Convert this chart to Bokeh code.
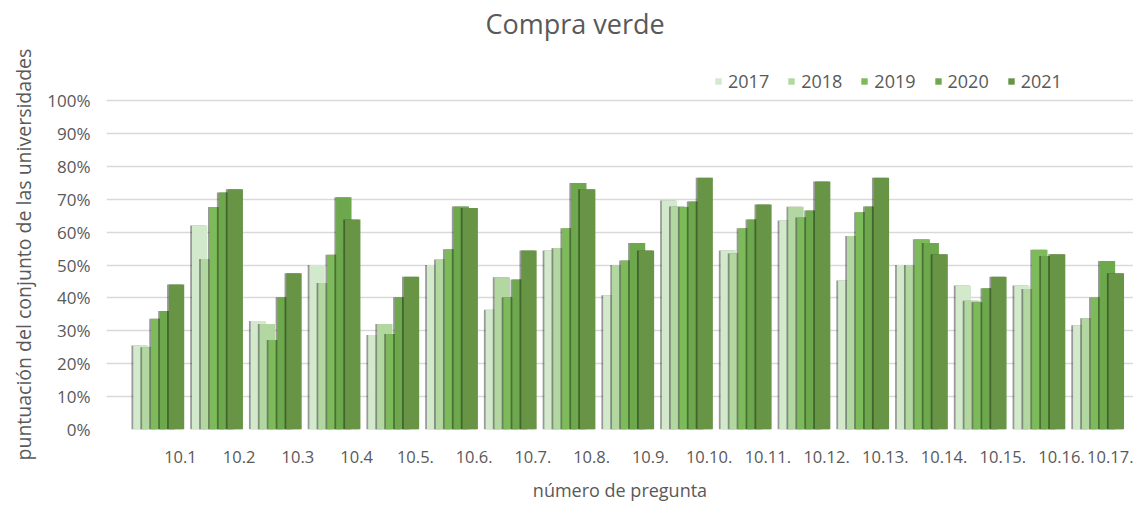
import numpy as np
from bokeh.plotting import figure
from bokeh.models import (FixedTicker, NumeralTickFormatter, Range1d, Legend,
                          LegendItem, ColumnDataSource, Title, Label)
from bokeh.embed import file_html
from bokeh.resources import INLINE

questions = ["10.1", "10.2", "10.3", "10.4", "10.5.", "10.6.", "10.7.", "10.8.", "10.9.",
             "10.10.", "10.11.", "10.12.", "10.13.", "10.14.", "10.15.", "10.16.", "10.17."]
years = ["2017", "2018", "2019", "2020", "2021"]
v2017 = [0.255, 0.62, 0.33, 0.50, 0.287, 0.50, 0.364, 0.544, 0.408, 0.696, 0.544, 0.635, 0.453, 0.50, 0.438, 0.438, 0.317]
v2018 = [0.25, 0.518, 0.321, 0.445, 0.321, 0.517, 0.463, 0.552, 0.50, 0.678, 0.535, 0.677, 0.588, 0.50, 0.391, 0.427, 0.338]
v2019 = [0.337, 0.676, 0.272, 0.531, 0.29, 0.548, 0.402, 0.612, 0.514, 0.676, 0.612, 0.644, 0.66, 0.578, 0.387, 0.546, 0.401]
v2020 = [0.36, 0.72, 0.402, 0.706, 0.402, 0.678, 0.456, 0.749, 0.567, 0.693, 0.638, 0.666, 0.678, 0.567, 0.429, 0.527, 0.512]
v2021 = [0.441, 0.73, 0.475, 0.638, 0.464, 0.673, 0.544, 0.73, 0.544, 0.765, 0.684, 0.754, 0.765, 0.533, 0.464, 0.533, 0.475]
series = [v2017, v2018, v2019, v2020, v2021]
title_text = "Compra verde"
x_title = "número de pregunta"
y_title = "puntuación del conjunto de las universidades"

colors = ["#d3e9cb", "#b2d7a1", "#7dbb5a", "#6da84c", "#679445"]
TEXT = "#595959"
FONT = "Open Sans"

p = figure(frame_width=1027, frame_height=422, title=None,
           x_range=Range1d(-0.889, 16.595), y_range=Range1d(0, 422 / 329),
           output_backend="svg", toolbar_location=None,
           min_border_left=101, min_border_right=0, min_border_top=7, min_border_bottom=74)

idx = np.arange(len(questions))
step = 0.1515
bw = 0.262
renderers = []
for k, (yr, vals) in enumerate(zip(years, series)):
    xs = idx + (k - 2) * step
    src = ColumnDataSource(dict(x=xs, xs=xs - 0.03, top=vals))
    p.vbar(x="xs", top="top", width=bw, source=src, fill_color="black",
           fill_alpha=0.4, line_color=None)
    r = p.vbar(x="x", top="top", width=bw, source=src, fill_color=colors[k],
               line_color=None)
    renderers.append(r)

legend = Legend(items=[LegendItem(label=y, renderers=[r]) for y, r in zip(years, renderers)],
                orientation="horizontal", location=(608, 336),
                glyph_width=8, glyph_height=8, label_standoff=6, spacing=18,
                padding=0, margin=0, border_line_color=None, background_fill_alpha=0,
                label_text_font_size="18px", label_text_color=TEXT, label_text_font=FONT)
p.add_layout(legend)

p.add_layout(Label(x=379, y=406, x_units="screen", y_units="screen", text=title_text,
                   text_font=FONT, text_font_size="27px", text_color=TEXT,
                   text_align="left", text_baseline="alphabetic"))

p.add_layout(Title(text=y_title, align="left", offset=-31, standoff=15,
                   text_font=FONT, text_font_size="19.5px", text_font_style="normal",
                   text_color=TEXT), "left")

lab_off = 0.37
p.xaxis.ticker = FixedTicker(ticks=list(idx + lab_off))
p.xaxis.major_label_overrides = {float(i + lab_off): q for i, q in zip(idx, questions)}
p.yaxis.ticker = FixedTicker(ticks=[i / 10 for i in range(11)])
p.yaxis.formatter = NumeralTickFormatter(format="0%")

p.xaxis.axis_label = x_title
for ax in (p.xaxis, p.yaxis):
    ax.axis_line_color = None
    ax.major_tick_line_color = None
    ax.minor_tick_line_color = None
    ax.major_tick_out = 0
    ax.major_tick_in = 0
    ax.minor_tick_out = 0
    ax.minor_tick_in = 0
    ax.major_label_text_font = FONT
    ax.major_label_text_font_size = "17px"
    ax.major_label_text_color = TEXT
    ax.axis_label_text_font = FONT
    ax.axis_label_text_font_style = "normal"
    ax.axis_label_text_color = TEXT
p.xaxis.major_label_text_font_size = "16.5px"
p.xaxis.axis_label_text_font_size = "18px"
p.xaxis.major_label_standoff = 21
p.xaxis.axis_label_standoff = 12
p.yaxis.major_label_standoff = 16

p.xgrid.grid_line_color = None
p.ygrid.grid_line_color = "#d9d9d9"
p.ygrid.grid_line_width = 1.5
p.outline_line_color = None

open("out.html", "w").write(file_html(p, INLINE))
